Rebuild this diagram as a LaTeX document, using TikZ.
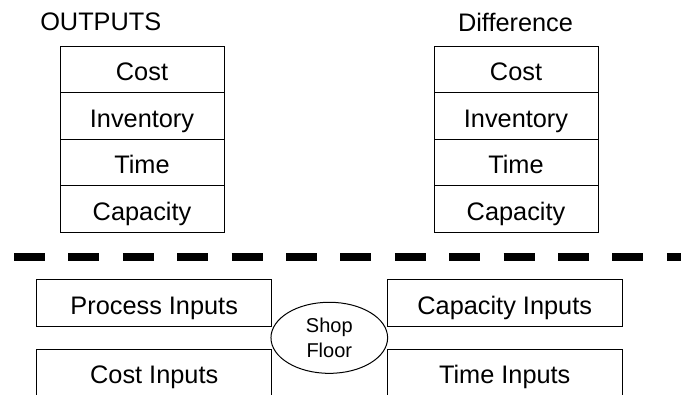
\documentclass[tikz,border=0pt]{standalone}
\usepackage{fontspec}
\setmainfont{Liberation Sans}
\usepackage{tikz}
\usetikzlibrary{positioning,shapes.geometric}

\tikzset{
  cell/.style={draw, line width=0.75pt, minimum width=123pt, minimum height=34.9pt,
    inner sep=0pt, outer sep=0pt, font=\fontsize{19}{22}\selectfont,
    text height=16.6pt, text depth=0pt},
  inbox/.style={cell, minimum width=176.25pt, minimum height=35pt},
  title/.style={inner sep=0pt, font=\fontsize{19}{22}\selectfont},
  floor/.style={draw, ellipse, line width=0.75pt, minimum width=87.5pt, minimum height=53.3pt,
    inner sep=0pt, align=center, font=\fontsize{15}{18.3}\selectfont}
}

\begin{document}
\begin{tikzpicture}[x=0.75pt,y=-0.75pt]
  % Frame
  \useasboundingbox (0,0) rectangle (681,394);
  \fill[white] (0,0) rectangle (681,394);
  \clip (0,0) rectangle (681,394);

  % Outputs
  \node[title,anchor=west] (outtitle) at (40,22) {OUTPUTS};
  \node[cell] (outcost) at (142,69.5) {Cost};
  \node[cell,below=0pt of outcost] (outinv) {Inventory};
  \node[cell,below=0pt of outinv] (outtime) {Time};
  \node[cell,below=0pt of outtime] (outcap) {Capacity};

  % Difference
  \node[title] (difftitle) at (515.5,22) {Difference};
  \node[cell] (diffcost) at (516,69.5) {Cost};
  \node[cell,below=0pt of diffcost] (diffinv) {Inventory};
  \node[cell,below=0pt of diffinv] (difftime) {Time};
  \node[cell,below=0pt of difftime] (diffcap) {Capacity};

  % Separator
  \draw[line width=6pt, dash pattern=on 23.25pt off 17.55pt] (14,256.7) -- (700,256.7);

  % Inputs around the shop floor
  \node[floor] (shop) at (329.3,337.8) {Shop\\Floor};
  \node[inbox] (procin) at (154.2,303.3) {Process Inputs};
  \node[inbox] (costin) at (154.2,372.7) {Cost Inputs};
  \node[inbox] (capin) at (504.7,303.3) {Capacity Inputs};
  \node[inbox] (timein) at (504.7,372.7) {Time Inputs};
\end{tikzpicture}
\end{document}
